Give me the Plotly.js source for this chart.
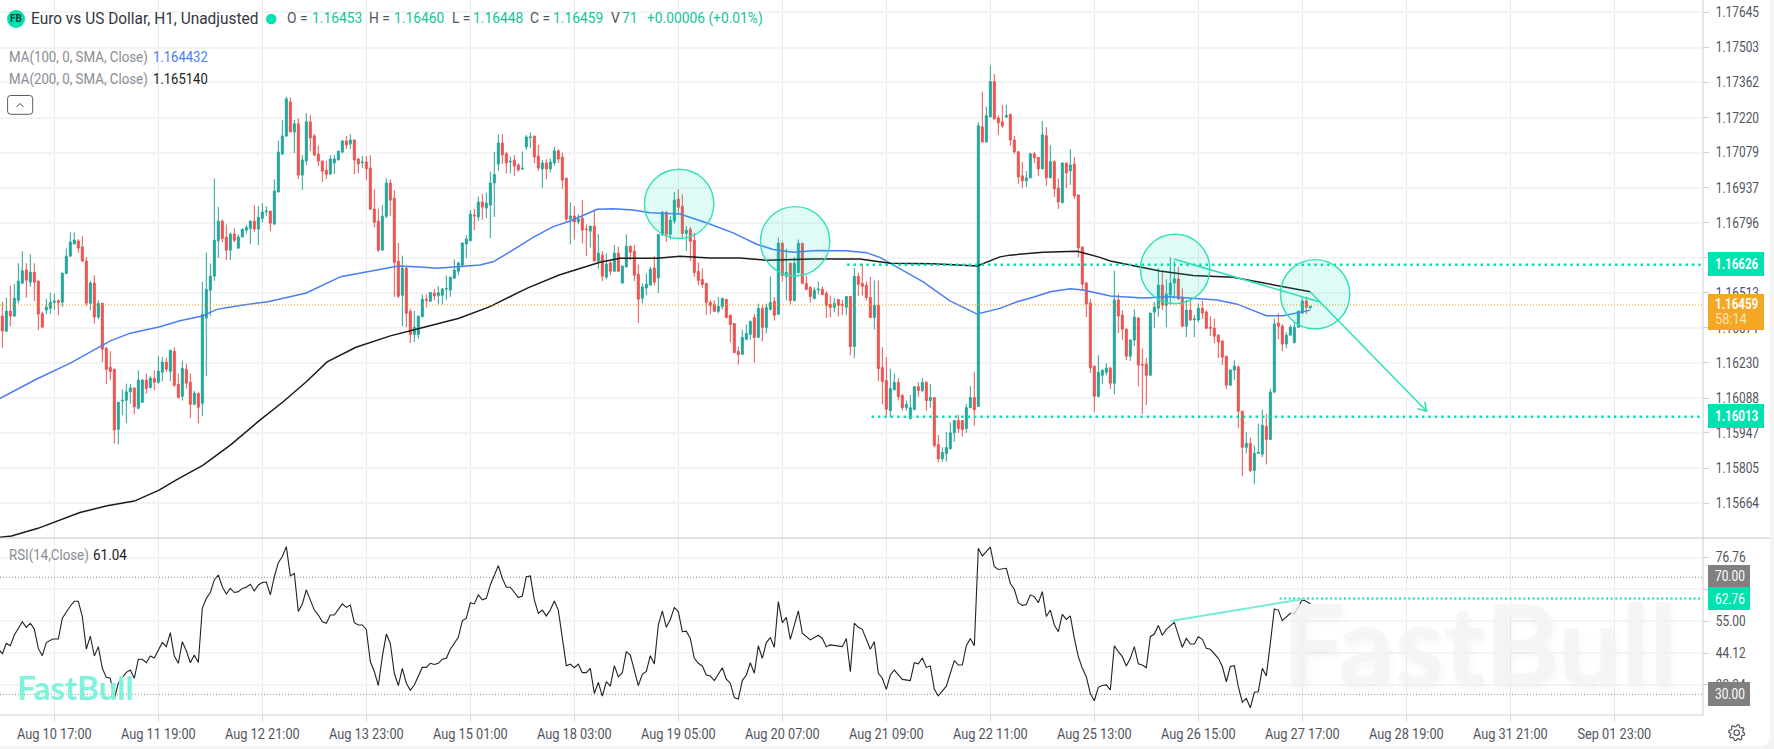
<!DOCTYPE html>
<html><head><meta charset="utf-8">
<script src="https://cdn.plot.ly/plotly-3.0.1.min.js"></script>
<style>html,body{margin:0;padding:0;background:#f3f3f4;overflow:hidden}#c{width:1774px;height:749px}</style>
</head><body><div id="c"></div>
<script>
// candle values, in 1e-5 price points (116419 = 1.16419), one per hourly bar
const openPts = [
116419,116358,116439,116419,116483,116552,116605,116556,116596,116560,
116428,116443,116450,116475,116481,116475,116591,116661,116710,116722,
116698,116641,116471,116552,116415,116471,116288,116212,116204,115962,
116076,116079,116113,116129,116047,116071,116160,116131,116168,116152,
116192,116233,116196,116277,116144,116095,116204,116152,116063,116107,
116067,116411,116523,116580,116723,116802,116738,116685,116750,116693,
116738,116766,116773,116802,116770,116814,116840,116843,116790,116920,
117073,117146,117283,117162,117195,116988,117045,117203,117146,117073,
117045,117008,116992,117037,117049,117081,117126,117114,117130,117053,
117038,117041,117017,116851,116802,116685,116822,116956,116895,116640,
116503,116612,116438,116345,116345,116416,116487,116479,116511,116501,
116503,116528,116524,116572,116600,116625,116710,116723,116827,116819,
116879,116855,116867,116956,117033,117118,117074,117041,117049,117029,
117013,117102,117140,117146,117065,117013,117037,117013,117037,117086,
117061,116976,116811,116823,116799,116815,116770,116762,116782,116641,
116665,116576,116633,116600,116673,116552,116617,116701,116681,116588,
116491,116532,116544,116613,116573,116749,116838,116749,116802,116891,
116862,116753,116769,116725,116599,116567,116551,116474,116466,116438,
116458,116486,116422,116389,116276,116264,116324,116345,116413,116333,
116450,116373,116446,116478,116426,116713,116579,116632,116482,116595,
116713,116551,116535,116490,116524,116527,116511,116466,116454,116486,
116466,116455,116498,116296,116579,116551,116543,116494,116413,116462,
116211,116159,116037,116122,116151,116098,116049,116005,116041,116134,
116118,116151,116078,116090,115900,115843,115863,115884,115948,115997,
115997,115965,116049,116090,116054,117183,117122,117223,117365,117219,
117203,117223,117232,117130,117082,116985,116965,116977,117074,117060,
117013,117147,116977,117042,116936,116876,117037,117005,117033,116908,
116698,116552,116471,116217,116095,116180,116192,116209,116148,116484,
116423,116366,116257,116322,116411,116223,116225,116180,116435,116451,
116544,116463,116504,116552,116569,116496,116378,116443,116404,116403,
116451,116435,116374,116370,116342,116318,116257,116140,116201,116213,
116035,115889,115905,115796,115865,115861,115974,115921,116112,116391,
116378,116306,116342,116312,116374,116431,116480,116453];
const highPts = [
116477,116494,116541,116548,116632,116681,116632,116668,116632,116563,
116436,116490,116514,116510,116487,116595,116692,116757,116757,116730,
116741,116658,116560,116584,116483,116472,116295,116277,116207,116072,
116123,116146,116146,116129,116200,116166,116187,116177,116200,116259,
116254,116250,116281,116293,116187,116239,116227,116187,116117,116110,
116557,116676,116631,116975,116860,116809,116789,116756,116773,116748,
116773,116786,116806,116866,116863,116876,116862,116844,116971,117127,
117211,117304,117302,117211,117217,117069,117238,117231,117154,117108,
117046,117046,117069,117069,117085,117130,117146,117153,117130,117057,
117066,117065,117068,116930,116853,116867,116975,116971,116928,116715,
116663,116620,116449,116440,116422,116506,116507,116515,116529,116540,
116533,116583,116577,116648,116638,116715,116746,116847,116852,116902,
116912,116917,117002,117082,117153,117153,117082,117063,117069,117036,
117083,117150,117160,117146,117110,117049,117052,117055,117103,117092,
117079,116976,116878,116863,116831,116887,116789,116784,116847,116750,
116681,116672,116645,116706,116699,116621,116749,116704,116706,116627,
116551,116591,116618,116661,116748,116843,116842,116822,116920,116930,
116910,116783,116779,116755,116635,116610,116551,116482,116482,116496,
116493,116489,116424,116391,116296,116364,116385,116401,116428,116469,
116466,116469,116579,116496,116736,116718,116691,116635,116657,116728,
116713,116583,116539,116536,116559,116539,116519,116502,116492,116488,
116485,116498,116498,116613,116594,116630,116559,116577,116563,116563,
116293,116253,116206,116186,116168,116105,116078,116101,116136,116152,
116169,116156,116145,116090,115939,115889,115952,115990,115997,116021,
115997,116064,116136,116194,117202,117325,117265,117430,117396,117228,
117271,117272,117238,117147,117085,117040,117005,117078,117082,117060,
117207,117182,117109,117048,116975,117037,117037,117093,117060,116908,
116698,116558,116488,116217,116261,116201,116228,116214,116602,116507,
116443,116369,116325,116447,116415,116288,116250,116432,116476,116612,
116602,116567,116656,116641,116618,116531,116484,116488,116423,116470,
116480,116443,116419,116409,116346,116322,116257,116205,116241,116221,
116036,115951,115928,115897,115985,116041,116025,116126,116409,116430,
116387,116354,116383,116392,116439,116497,116497,116460];
const lowPts = [
116291,116355,116378,116416,116470,116547,116494,116537,116479,116362,
116374,116427,116428,116443,116423,116456,116588,116658,116708,116676,
116638,116460,116443,116388,116406,116233,116145,116160,115905,115901,
116018,115987,116065,116022,116042,116068,116106,116126,116119,116144,
116156,116193,116156,116133,116086,116078,116126,116007,116059,115986,
116014,116176,116419,116561,116654,116716,116645,116645,116717,116693,
116738,116752,116709,116758,116705,116795,116822,116762,116790,116918,
117069,117142,117162,117077,116972,116928,117029,117085,117065,117025,
116960,116972,116992,116992,117049,117076,117093,117093,116992,116995,
117017,116968,116847,116778,116677,116685,116814,116824,116496,116491,
116378,116375,116310,116314,116328,116416,116453,116476,116483,116466,
116466,116483,116497,116571,116584,116615,116653,116722,116766,116803,
116807,116815,116734,116819,117006,117033,116995,116995,116985,117002,
117009,117090,117096,117036,117005,116935,116971,116999,117025,117036,
116932,116800,116708,116728,116790,116712,116661,116696,116641,116608,
116560,116568,116584,116599,116596,116552,116617,116645,116560,116391,
116470,116503,116544,116542,116512,116741,116718,116728,116792,116833,
116732,116682,116641,116577,116543,116533,116423,116426,116438,116430,
116446,116409,116312,116268,116223,116264,116324,116324,116231,116331,
116316,116349,116442,116401,116426,116558,116482,116466,116478,116590,
116550,116523,116473,116486,116506,116506,116411,116415,116434,116418,
116422,116422,116260,116249,116500,116502,116482,116413,116365,116155,
116062,116010,116010,116118,116078,116037,116037,116001,116041,116094,
116111,116037,116049,115889,115828,115831,115831,115880,115912,115947,
115932,115947,116049,115977,116054,117122,117120,117223,117214,117151,
117178,117218,117106,117074,116953,116936,116940,116977,117036,116985,
117013,116944,116977,116899,116851,116876,116936,116949,116892,116656,
116520,116414,116190,116032,116091,116144,116180,116124,116103,116350,
116322,116241,116238,116298,116136,116023,116059,116178,116370,116416,
116443,116374,116463,116488,116484,116374,116334,116399,116334,116395,
116407,116366,116338,116310,116248,116221,116124,116136,116160,115966,
115772,115864,115789,115740,115864,115849,115820,115921,116109,116326,
116277,116289,116342,116308,116374,116427,116427,116448];
const closePts = [
116359,116439,116419,116491,116560,116602,116564,116596,116556,116427,
116374,116455,116475,116479,116474,116592,116661,116718,116726,116694,
116641,116471,116552,116415,116470,116285,116204,116195,115959,116071,
116079,116113,116129,116052,116160,116160,116127,116169,116152,116196,
116233,116204,116281,116140,116091,116208,116148,116063,116107,116051,
116426,116527,116580,116725,116802,116732,116685,116750,116725,116738,
116769,116777,116802,116770,116818,116839,116843,116794,116924,117081,
117146,117296,117162,117195,116988,117049,117203,117138,117069,117045,
117004,116992,117053,117053,117085,117126,117110,117130,117049,117033,
117041,117014,116851,116798,116685,116822,116956,116887,116636,116499,
116612,116430,116345,116374,116418,116487,116483,116514,116501,116513,
116528,116530,116576,116604,116633,116714,116730,116831,116824,116879,
116859,116875,116956,116991,117118,117069,117037,117044,117025,117009,
117016,117142,117142,117061,117017,117037,117013,117041,117086,117053,
116968,116811,116823,116799,116811,116766,116768,116782,116641,116673,
116580,116629,116600,116673,116600,116621,116701,116677,116584,116487,
116536,116548,116608,116556,116748,116838,116749,116806,116887,116858,
116752,116765,116721,116595,116563,116547,116474,116462,116438,116458,
116490,116413,116385,116272,116264,116333,116349,116397,116333,116450,
116373,116454,116474,116422,116713,116583,116595,116482,116632,116713,
116551,116527,116498,116523,116527,116506,116462,116454,116470,116462,
116463,116498,116296,116579,116547,116539,116494,116413,116462,116207,
116155,116043,116126,116151,116094,116049,116062,116049,116134,116118,
116151,116078,116090,115896,115843,115868,115888,115948,115997,115965,
115961,116049,116090,116041,117187,117122,117228,117365,117215,117199,
117187,117228,117130,117082,116981,116965,116977,117074,117058,117013,
117151,116977,117042,116932,116880,117037,116997,117029,116904,116695,
116548,116467,116210,116095,116192,116201,116209,116148,116484,116419,
116366,116257,116322,116415,116221,116221,116180,116431,116455,116544,
116463,116508,116552,116569,116488,116378,116443,116403,116407,116451,
116431,116370,116370,116338,116314,116253,116140,116201,116217,116035,
115889,115905,115796,115865,115868,115978,115921,116112,116387,116378,
116306,116342,116374,116374,116439,116480,116455,116459];

// moving averages: bar index and price points
const ma100Bar = [-1,8.6,17,24.4,27,32,39.4,44.4,50,53.6,59.4,66.4,76,84.6,91,99,104.4,108.6,119.4,122.7,127,132.7,137.7,142,145,148.7,152.7,157.7,162,169.4,176,182.7,188.6,192.7,197.7,203.6,211,216,219.4,224.4,230.2,236.9,243.7,249.4,253.7,257.7,262,267,270.2,277,285.2,292,303.7,308.7,316,320.2,327];
const ma100Pts = [116083,116165,116229,116295,116319,116350,116376,116400,116419,116446,116462,116477,116512,116578,116598,116621,116617,116612,116625,116638,116679,116737,116780,116803,116824,116850,116852,116847,116836,116831,116796,116755,116709,116688,116677,116684,116683,116675,116656,116609,116557,116480,116427,116450,116477,116495,116517,116529,116524,116500,116492,116497,116484,116467,116420,116420,116443];
const ma200Bar = [-1,2.3,8.9,19.4,26.2,33,39.2,43.4,50.2,57,64.4,70.2,76,81.2,88.4,97,104.7,114.2,121.9,131.4,139.2,149.4,154.4,163.7,169.4,176.9,184.4,191.2,202.7,214.4,221.9,232.7,243.7,249.4,251.9,260.2,268.7,274.4,277,289.4,297.7,307.7,327];
const ma200Pts = [115525,115531,115562,115626,115653,115672,115716,115757,115817,115898,115999,116073,116154,116234,116293,116339,116371,116410,116457,116533,116585,116636,116652,116652,116660,116653,116653,116644,116649,116649,116632,116630,116621,116658,116665,116677,116681,116656,116641,116601,116583,116576,116517];

// RSI(14)
const rsiBar = [-1,0,1,2,3,5,6,7,8,9,10,11,12.6,14,15,17,18,19,20,21,22,23,24,25,26,27,28,29,30,31,32,33,34,35,36,37,38,39,40,41,42,43,44,45,46,47,48,49,50,51,52,53,54,55,56,57,58,59,60,61,62,63,64,65,66,67,68,69,70,71,72,73,74,75,76,78,79,80,81,82,83,85,86,87,88,89,90,91,92,93,94,95,96,97,98,99,100,101,102,103,104,105,106,107,108,109,110,111,112,113,114,115,116,117,118,119,120,121,122,124,125,126,127,129,130,131,132,133,134,135,136,137,138,139,141,142,143,144,145,146,147,148,149,150,151,152,153,154,155,156,157,159,160,161,162,163,164,165,166,167,168,169,170,171,172,173,174,175,176,177,178,180,181,182,183,184,185,186,187,188,189,190,191,192,193,194,195,196,197,199,200,202,204,205,206,207,210,211,212,213,214,215,217,218,219,220,221,222,223,225,226,227,228,229,230,231,232,233,234,236,237,238,239,240,241,242,243,244,245,247,248,249,251,252,253,254,255,256,257,258,259,260,261,262,263,264,265,266,267,268,269,270,271,272,273,274,275,276,277,278,279,280,281,282,283,284,285,286,287,288,289,290,291,293,294,295,296,297,298,299,300,301,302,303,304,305,306,307,308,309,310,311,312,313,314,315,316,317,318,319,320,322,323,324,325,326,327];
const rsiVal = [45.7,43.8,47.4,46.6,50.3,54.8,52.9,54.3,52.3,45.7,43.2,47.7,48.9,48.9,56,60.2,61.8,61.8,56.6,45.5,49.9,43.1,46.3,38.9,35.8,35.5,28.4,33.8,35.8,37.5,38.3,35.5,42,42,40.8,43.1,42.4,45.2,47.7,46.3,51.1,43.1,40.6,48,44.9,40.8,43.4,40.9,59.4,62.8,64.8,69.1,70.8,66.8,64.3,66.2,64.8,65.1,66.2,66.6,67.6,65.3,67.4,68.2,68.4,64,70.2,75,77.1,80.5,70.5,71.3,58.3,60.9,65.7,58.8,57.1,54.8,54.3,57.1,57.1,60.9,59.7,60.5,54.5,53.7,53.7,52.2,41.2,37.8,33,42.9,50.6,47.4,37.2,33,38.9,33.8,31.4,33.2,36,39.2,39.2,40.6,40.2,40.6,42,42.3,45.4,47.4,49.5,55.1,56,61.3,60.9,64,62.3,62.8,67.4,74,69.7,66.6,66.6,63.1,63.6,70.2,70.5,62.3,57.7,58.8,56.8,58.8,61.9,58.8,39.8,40.3,39.1,40.3,37.4,37.4,38.9,30.3,34.1,29.4,34.3,32.8,39.8,36,37.4,44.6,43.4,33,36.8,37.8,43.2,40.4,53.7,58.5,52.9,55.6,59.7,58.3,51.4,51.6,49.1,42.3,40.6,39.7,36.6,36.3,34.7,39.1,35.2,33.8,28.9,28.4,34.7,36.6,40.8,37.2,46.6,42.3,47.7,49.4,46.1,61.7,54.5,56.3,48.8,58.5,50.9,48.6,50.2,49.1,46.3,46.9,46.3,49.1,37.7,54.3,52.9,52.2,45.4,48,37.2,35.5,31.7,36.6,38.3,35.1,34.9,34.7,40.8,40.4,42.4,39.2,39.7,31.7,29.5,32.8,37.2,41.5,40,40,46.6,49.1,46.6,79.9,77.3,80.3,73.6,72.7,73.1,67.9,65.9,61.3,60.4,60.7,64,63.4,61.3,65.1,56.6,58.8,53.7,51.4,57.3,55.6,56.8,49.1,42.9,38.9,36,30.3,27.8,32.4,33,33.2,31.5,46.6,44.6,42.9,39.7,42.3,46.3,40.4,40,39.1,49.7,50.6,53.5,50.2,52.2,54.6,50.3,46.1,49.1,47.2,47.2,49.7,48.8,45.7,45.4,43.8,42.3,39.5,34.3,39.5,39.8,32.6,27.3,28.6,25.4,30.7,30.9,38.9,36.3,47.4,59.2,58.8,55.2,57.7,57.7,59.7,62.5,61.7,61];

// time axis
const timeTickBars = [13,39,65,91,117,143,169,195,221,247,273,299,325,351,377,403];
const timeTickLabels = ["Aug 10 17:00","Aug 11 19:00","Aug 12 21:00","Aug 13 23:00","Aug 15 01:00","Aug 18 03:00","Aug 19 05:00","Aug 20 07:00","Aug 21 09:00","Aug 22 11:00","Aug 25 13:00","Aug 26 15:00","Aug 27 17:00","Aug 28 19:00","Aug 31 21:00","Sep 01 23:00"];
// price axis
const priceTicks = [1.17645,1.17503,1.17362,1.17220,1.17079,1.16937,1.16796,1.16654,1.16513,1.16371,1.16230,1.16088,1.15947,1.15805,1.15664];
const priceTickLabels = ["1.17645","1.17503","1.17362","1.17220","1.17079","1.16937","1.16796","1.16654","1.16513","1.16371","1.16230","1.16088","1.15947","1.15805","1.15664"];
const rsiTicks = [76.76,65.88,55,44.12,33.24];
const rsiTickLabels = ["76.76","65.88","55.00","44.12","33.24"];

// drawings on the chart
const circleBar = [169.2,198.2,293.2,328.2];
const circlePrice = [1.16872,1.16721,1.16609,1.16507];
const trendBar = [292.9,329.2,null,327,356.1,null,355.6,356.1,353.8];
const trendPrice = [1.16649,1.16477,null,1.16516,1.16035,null,1.16073,1.16035,1.16045];
const resistance = 1.16626, resistanceFromBar = 211.2;
const support = 1.16013, supportFromBar = 217.3;
const lastPriceLevel = 1.16464;
const rsiLevels = [70,30];
const rsiMark = 62.76, rsiMarkFromBar = 319.3;
const rsiTrendBar = [292.1,325.4], rsiTrendVal = [55.07,62.6];

const W=1774,H=749;
const PLOT_R=1703, MAIN_B=538, RSI_B=715;
const px=x=>x/W, py=y=>1-y/H;
const toPrice=a=>a.map(v=>v==null?null:v/1e5);
const bars=openPts.map((_,i)=>i);
const xRange=[-0.58,425.17];
const GREEN='#26a69a',RED='#ef5350',MINT='#00e2b0',LINE='#2ee0b8';
const FONT='Roboto,sans-serif';

const data=[
 {type:'candlestick',x:bars,open:toPrice(openPts),high:toPrice(highPts),low:toPrice(lowPts),close:toPrice(closePts),xaxis:'x',yaxis:'y',whiskerwidth:0,
  increasing:{line:{color:GREEN,width:1},fillcolor:GREEN},decreasing:{line:{color:RED,width:1},fillcolor:RED},hoverinfo:'skip',showlegend:false},
 {type:'scatter',mode:'lines',x:ma100Bar,y:toPrice(ma100Pts),line:{color:'#4a7df5',width:1.5},xaxis:'x',yaxis:'y',hoverinfo:'skip'},
 {type:'scatter',mode:'lines',x:ma200Bar,y:toPrice(ma200Pts),line:{color:'#1c1c1c',width:1.5},xaxis:'x',yaxis:'y',hoverinfo:'skip'},
 {type:'scatter',mode:'lines',x:xRange,y:[lastPriceLevel,lastPriceLevel],line:{color:'#f5a623',width:1,dash:'1px,2px'},xaxis:'x',yaxis:'y',hoverinfo:'skip'},
 {type:'scatter',mode:'lines',x:[resistanceFromBar,xRange[1]],y:[resistance,resistance],line:{color:MINT,width:2.5,dash:'2.5px,3.9px'},xaxis:'x',yaxis:'y',hoverinfo:'skip'},
 {type:'scatter',mode:'lines',x:[supportFromBar,xRange[1]],y:[support,support],line:{color:MINT,width:2.5,dash:'2.5px,3.9px'},xaxis:'x',yaxis:'y',hoverinfo:'skip'},
 {type:'scatter',mode:'lines',x:trendBar,y:trendPrice,connectgaps:false,line:{color:LINE,width:1.5},xaxis:'x',yaxis:'y',hoverinfo:'skip'},
 {type:'scatter',mode:'lines',x:[xRange[0],xRange[1]],y:[rsiLevels[0],rsiLevels[0]],line:{color:'#8f8f8f',width:1,dash:'1px,2px'},xaxis:'x2',yaxis:'y2',hoverinfo:'skip'},
 {type:'scatter',mode:'lines',x:[xRange[0],xRange[1]],y:[rsiLevels[1],rsiLevels[1]],line:{color:'#8f8f8f',width:1,dash:'1px,2px'},xaxis:'x2',yaxis:'y2',hoverinfo:'skip'},
 {type:'scatter',mode:'lines',x:rsiBar,y:rsiVal,line:{color:'#222222',width:1.1},xaxis:'x2',yaxis:'y2',hoverinfo:'skip'},
 {type:'scatter',mode:'lines',x:[rsiMarkFromBar,xRange[1]],y:[rsiMark,rsiMark],line:{color:MINT,width:2,dash:'2px,2.6px'},xaxis:'x2',yaxis:'y2',hoverinfo:'skip'},
 {type:'scatter',mode:'lines',x:rsiTrendBar,y:rsiTrendVal,line:{color:'#74efd6',width:2},xaxis:'x2',yaxis:'y2',hoverinfo:'skip'}
];

const rb=8.67, rp=0.0014;
const shapes=circleBar.map((b,i)=>({type:'circle',xref:'x',yref:'y',x0:b-rb,x1:b+rb,y0:circlePrice[i]-rp,y1:circlePrice[i]+rp,
  fillcolor:'rgba(0,224,176,0.13)',line:{color:LINE,width:1.4},layer:'above'}));
const rectPx=(x0,y0,x1,y1,c)=>({type:'rect',xref:'paper',yref:'paper',x0:px(x0),x1:px(x1),y0:py(y1),y1:py(y0),fillcolor:c,line:{width:0},layer:'above'});
const linePx=(x0,y0,x1,y1,c,w)=>({type:'line',xref:'paper',yref:'paper',x0:px(x0),x1:px(x1),y0:py(y0),y1:py(y1),line:{color:c,width:w},layer:'above'});
const roundPath=(x0,y0,x1,y1,r)=>`M${px(x0+r)},${py(y0)} L${px(x1-r)},${py(y0)} Q${px(x1)},${py(y0)} ${px(x1)},${py(y0+r)} L${px(x1)},${py(y1-r)} Q${px(x1)},${py(y1)} ${px(x1-r)},${py(y1)} L${px(x0+r)},${py(y1)} Q${px(x0)},${py(y1)} ${px(x0)},${py(y1-r)} L${px(x0)},${py(y0+r)} Q${px(x0)},${py(y0)} ${px(x0+r)},${py(y0)} Z`;
// settings icon, drawn as an outline
const gearPath=(()=>{const cx=1736.7,cy=732.7,n=8;let d='';for(let i=0;i<n*4;i++){const a=(i+0.5)/(n*4)*2*Math.PI;const r=(i%4<2)?8:6.2;d+=(i?'L':'M')+px(cx+r*Math.cos(a))+','+py(cy+r*Math.sin(a))+' ';}return d+'Z';})();
shapes.push(
 {type:'path',xref:'paper',yref:'paper',path:roundPath(-12,-12,1770,746,10),fillcolor:'#ffffff',line:{width:0},layer:'below'},
 linePx(0,538,1770,538,'#c6c6cf',1.2),
 linePx(PLOT_R,0,PLOT_R,RSI_B,'#d4d4da',1.2),
 linePx(0,RSI_B,PLOT_R,RSI_B,'#d4d4da',1.2),
 rectPx(1708,252,1764,276,MINT),
 rectPx(1708,294,1764,330,'#f5a623'),
 rectPx(1708,404,1764,428,MINT),
 rectPx(1708,565,1750,587,'#808080'),
 rectPx(1708,587,1750,610,MINT),
 rectPx(1708,682,1750,706,'#808080'),
 {type:'circle',xref:'paper',yref:'paper',x0:px(7),x1:px(25),y0:py(28),y1:py(10),fillcolor:MINT,line:{width:0},layer:'above'},
 {type:'circle',xref:'paper',yref:'paper',x0:px(266),x1:px(276.5),y0:py(24.3),y1:py(13.8),fillcolor:MINT,line:{width:0},layer:'above'},
 {type:'path',xref:'paper',yref:'paper',path:roundPath(7.6,95.5,32.7,114.3,3),line:{color:'#555a63',width:1},fillcolor:'#ffffff',layer:'above'},
 {type:'path',xref:'paper',yref:'paper',path:`M${px(16.5)},${py(107)} L${px(20)},${py(103.5)} L${px(23.5)},${py(107)}`,line:{color:'#444',width:1},layer:'above'},
 {type:'path',xref:'paper',yref:'paper',path:gearPath,line:{color:'#50545c',width:1.2},layer:'above'},
 {type:'circle',xref:'paper',yref:'paper',x0:px(1734),x1:px(1739.4),y0:py(735.4),y1:py(730),line:{color:'#50545c',width:1.2},layer:'above'}
);

const txt=(x,y,text,color,size,sq,extra)=>Object.assign({xref:'paper',yref:'paper',x:px(x),y:py(y),text,showarrow:false,xanchor:'left',yanchor:'middle',align:'left',borderpad:0,
  font:{family:FONT,size:size||14,color},sq:sq||1},extra||{});
const G='#15c39a',D='#50545c',M='#8a8d94';
const annotations=[
 txt(1281,641,'<b>FastBull</b>','rgba(243,243,245,0.78)',112,1,{font:{family:'Lato,sans-serif',size:112,color:'rgba(243,243,245,0.78)',shadow:'2px 5px 8px rgba(0,0,0,0.05)'}}),
 txt(16,686.5,'<b>FastBull</b>','#7ef2db',33,1,{font:{family:'Lato,sans-serif',size:33,color:'#7ef2db'}}),
 txt(16,19,'<b>FB</b>','#0d3d35',10,1,{xanchor:'center'}),
 txt(29.5,19,'Euro vs US Dollar, H1, Unadjusted','#33373e',16,0.965),
 txt(286,18.5,'O =',D,15,0.92),txt(311,18.5,'1.16453',G,15,0.92),
 txt(368,18.5,'H =',D,15,0.92),txt(393,18.5,'1.16460',G,15,0.92),
 txt(450.5,18.5,'L =',D,15,0.92),txt(472,18.5,'1.16448',G,15,0.92),
 txt(529,18.5,'C =',D,15,0.92),txt(552,18.5,'1.16459',G,15,0.92),
 txt(609.7,18.5,'V',D,15,0.92),txt(621.4,18.5,'71',G,15,0.92),
 txt(646.4,18.5,'+0.00006 (+0.01%)',G,15,0.92),
 txt(7.6,57,'MA(100, 0, SMA, Close)',M,14,0.95),txt(152,57,'1.164432','#4a7df5',14.5,0.9),
 txt(7.6,79,'MA(200, 0, SMA, Close)',M,14,0.95),txt(152,79,'1.165140','#222',14.5,0.9),
 txt(7.6,555.7,'RSI(14,Close)',M,14,0.95),txt(92,555.7,'61.04','#222',14.5,0.93),
 txt(1714,264,'<b>1.16626</b>','#fff',14.5,0.8),
 txt(1714,304,'<b>1.16459</b>','#fff',14.5,0.8),
 txt(1714,319,'58:14','#fbe3b8',14.5,0.88),
 txt(1714,416,'<b>1.16013</b>','#fff',14.5,0.8),
 txt(1714,576,'70.00','#fff',14,0.85),
 txt(1714,598.5,'62.76','#fff',14,0.85),
 txt(1714,694,'30.00','#fff',14,0.85)
];

const axisBase={showgrid:true,gridcolor:'#ebebed',gridwidth:1,zeroline:false,showline:false,fixedrange:true};
const tickFont={family:FONT,size:14,color:'#50545c'};
const layout={
 width:W,height:H,margin:{l:0,r:0,t:0,b:0,pad:0},paper_bgcolor:'#f3f3f4',plot_bgcolor:'rgba(0,0,0,0)',showlegend:false,dragmode:false,hovermode:false,
 font:{family:FONT,size:14,color:'#50545c'},
 xaxis:Object.assign({},axisBase,{domain:[0,PLOT_R/W],range:xRange,type:'linear',anchor:'y',tickmode:'array',tickvals:timeTickBars,ticktext:timeTickLabels,showticklabels:false,ticks:'',rangeslider:{visible:false}}),
 xaxis2:Object.assign({},axisBase,{domain:[0,PLOT_R/W],range:xRange,type:'linear',anchor:'y2',tickmode:'array',tickvals:timeTickBars,ticktext:timeTickLabels,ticks:'outside',ticklen:5,tickcolor:'#cfcfd6',tickfont:tickFont,ticklabelstandoff:1}),
 yaxis:{domain:[1-MAIN_B/H,1],range:[1.15523,1.17695],side:'right',anchor:'x',tickmode:'array',tickvals:priceTicks,ticktext:priceTickLabels,showgrid:true,gridcolor:'#f4f4f5',gridwidth:2,zeroline:false,ticks:'outside',ticklen:5,tickcolor:'#cfcfd6',tickfont:tickFont,ticklabelstandoff:4,fixedrange:true},
 yaxis2:{domain:[1-RSI_B/H,1-MAIN_B/H],range:[22.93,83.44],side:'right',anchor:'x2',tickmode:'array',tickvals:rsiTicks,ticktext:rsiTickLabels,showgrid:true,gridcolor:'#f4f4f5',gridwidth:2,zeroline:false,ticks:'outside',ticklen:5,tickcolor:'#cfcfd6',tickfont:tickFont,ticklabelstandoff:4,fixedrange:true},
 shapes,annotations
};
// The reference's typeface is narrower than any installed one: narrow each text horizontally.
const squeeze=(el,s,centre)=>{if(s===1)return;const prev=el.getAttribute('transform')||'';if(prev.includes('scale('))return;
 const b=el.getBBox();const ax=centre?b.x+b.width/2:b.x;
 el.setAttribute('transform',`${prev} translate(${ax},0) scale(${s},1) translate(${-ax},0)`);};
const narrowAll=gd=>{
 gd.querySelectorAll('.cartesianlayer text').forEach(t=>{const s=t.textContent.trim();
  if(/^[A-Z][a-z]{2} \d\d \d\d:\d\d$/.test(s))squeeze(t,0.91,true);
  else if(/^\d\.\d{5}$/.test(s)||/^\d\d\.\d\d$/.test(s))squeeze(t,0.85,false);});
 annotations.forEach((a,i)=>{const t=gd.querySelector(`.annotation[data-index="${i}"] text`);if(t)squeeze(t,a.sq,false);});
};
Plotly.newPlot('c',data,layout,{displayModeBar:false,staticPlot:true}).then(gd=>{
 narrowAll(gd);requestAnimationFrame(()=>narrowAll(gd));setTimeout(()=>narrowAll(gd),60);setTimeout(()=>narrowAll(gd),300);
});
</script></body></html>
